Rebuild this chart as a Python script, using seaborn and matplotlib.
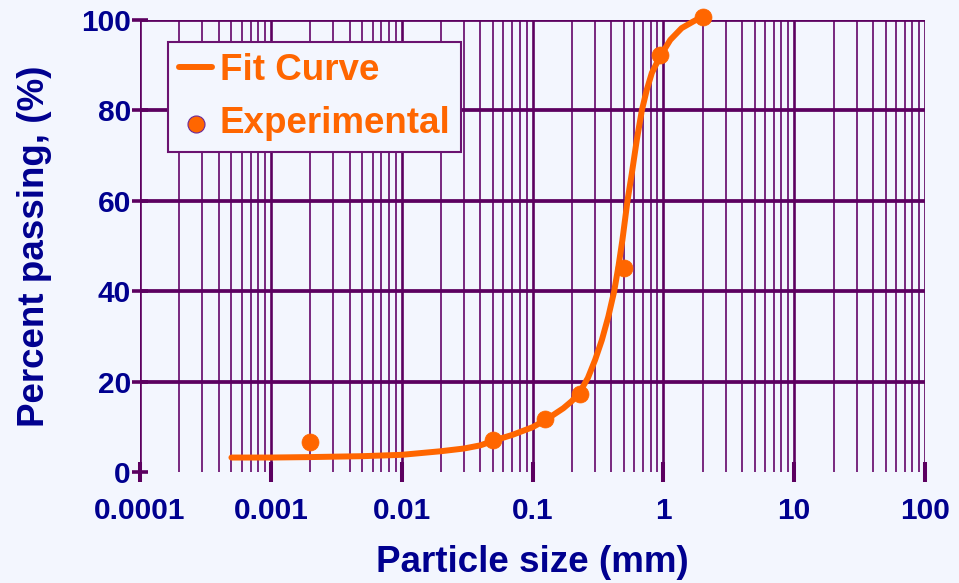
import numpy as np
import pandas as pd
import matplotlib
matplotlib.use("Agg")
import matplotlib.pyplot as plt
import seaborn as sns
from matplotlib.ticker import LogLocator, FixedLocator, NullFormatter

# measured points (particle size in mm, percent passing)
exp_size = [0.002, 0.05, 0.125, 0.23, 0.5, 0.95, 2.0]
exp_pass = [6.7, 7.1, 11.7, 17.3, 45.2, 92.3, 100.7]

# fit curve
fit_size = [0.0005, 0.001, 0.002, 0.005, 0.01, 0.02, 0.03, 0.04, 0.05, 0.07,
            0.1, 0.129, 0.172, 0.2, 0.231, 0.265, 0.301, 0.339, 0.38, 0.421,
            0.454, 0.487, 0.532, 0.574, 0.627, 0.685, 0.748, 0.817, 0.917,
            0.962, 1.13, 1.38, 1.7, 1.95]
fit_pass = [3.2, 3.2, 3.3, 3.5, 3.8, 4.6, 5.2, 5.9, 6.9, 8.2,
            9.9, 11.7, 14.1, 15.7, 17.8, 20.8, 24.8, 29.2, 34.4, 40.0,
            45.5, 51.4, 60.0, 66.0, 73.5, 80.0, 84.6, 88.3, 91.2,
            92.3, 95.6, 98.2, 99.7, 100.6]

x_ticks = [0.0001, 0.001, 0.01, 0.1, 1, 10, 100]
x_labels = ["0.0001", "0.001", "0.01", "0.1", "1", "10", "100"]
y_ticks = [0, 20, 40, 60, 80, 100]

bg = "#F3F6FE"
navy = "#00008F"
purple = "#5C0060"
orange = "#FF6600"

sns.set_style("white")
plt.rcParams['font.family'] = ['Liberation Sans', 'DejaVu Sans']
plt.rcParams['font.weight'] = 'bold'

fit_df = pd.DataFrame({'size': fit_size, 'passing': fit_pass})
exp_df = pd.DataFrame({'size': exp_size, 'passing': exp_pass})

fig = plt.figure(figsize=(9.59, 5.83), dpi=100, facecolor=bg)
ax = fig.add_axes([140 / 959, 111 / 583, 785 / 959, 452 / 583])
ax.set_facecolor(bg)
ax.set_xscale('log')
ax.set_xlim(0.0001, 100)
ax.set_ylim(0, 100)

# grid: vertical lines at every log step, thick horizontals except at 0
ax.xaxis.set_major_locator(FixedLocator(x_ticks))
ax.xaxis.set_minor_locator(LogLocator(base=10, subs=np.arange(2, 10), numticks=20))
ax.xaxis.set_minor_formatter(NullFormatter())
ax.grid(which='minor', axis='x', color='#74207A', linewidth=1.35, zorder=1)
ax.grid(which='major', axis='x', color=purple, linewidth=1.9, zorder=1)
ax.hlines(y_ticks[1:], 0.0001, 100, colors=purple, linewidth=2.7, zorder=1)
ax.set_axisbelow(True)

sns.lineplot(data=fit_df, x='size', y='passing', ax=ax, color=orange,
             linewidth=4.3, label='Fit Curve', zorder=3, clip_on=False)
sns.scatterplot(data=exp_df, x='size', y='passing', ax=ax, color=orange,
                s=150, edgecolor=orange, linewidth=0.5, label='Experimental',
                zorder=4, clip_on=False)

for s in ax.spines.values():
    s.set_visible(False)

ax.set_xticks(x_ticks)
ax.set_xticklabels(x_labels)
ax.set_yticks(y_ticks)
ax.tick_params(axis='x', which='major', bottom=True, direction='inout',
               length=14.5, width=2.9, color=purple, labelsize=21.5,
               labelcolor=navy, pad=10.5)
ax.tick_params(axis='x', which='minor', length=0)
ax.tick_params(axis='y', left=True, direction='inout', length=12, width=2.6,
               color=purple, labelsize=21.5, labelcolor=navy, pad=0.5)

ax.set_xlabel('Particle size (mm)', fontsize=26.5, color=navy,
              fontweight='bold', labelpad=15)
ax.set_ylabel('Percent passing, (%)', fontsize=26.5, color=navy,
              fontweight='bold', labelpad=21)

leg = ax.legend(loc='upper left', bbox_to_anchor=(28 / 785, 1 - 22 / 452),
                borderaxespad=0, frameon=True, fancybox=False,
                facecolor=bg, edgecolor='#6A1270', framealpha=1,
                prop={'size': 26.5, 'weight': 'bold'}, handlelength=0.9,
                handletextpad=0.2, labelspacing=0.5, borderpad=0.3,
                markerscale=1.0)
leg.get_frame().set_linewidth(1.5)
for t in leg.get_texts():
    t.set_color(orange)
leg.legend_handles[1].set_edgecolor('#6A2A9A')
leg.legend_handles[1].set_linewidth(0.8)

fig.savefig('out.png', dpi=100, facecolor=bg)
